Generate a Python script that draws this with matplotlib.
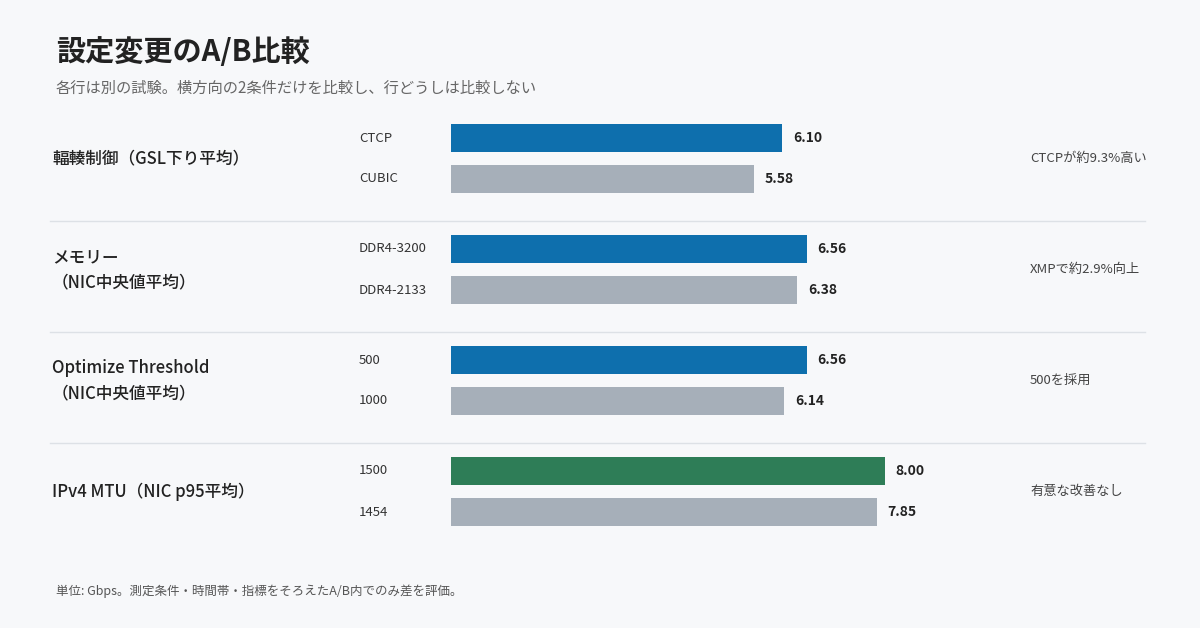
import matplotlib.pyplot as plt

plt.rcParams['font.family'] = ['Noto Sans CJK JP', 'DejaVu Sans']

groups = ['輻輳制御（GSL下り平均）', 'メモリー\n（NIC中央値平均）', 'Optimize Threshold\n（NIC中央値平均）', 'IPv4 MTU（NIC p95平均）']
labels_a = ['CTCP', 'DDR4-3200', '500', '1500']
labels_b = ['CUBIC', 'DDR4-2133', '1000', '1454']
values_a = [6.10, 6.56, 6.56, 8.00]
values_b = [5.58, 6.38, 6.14, 7.85]
notes = ['CTCPが約9.3%高い', 'XMPで約2.9%向上', '500を採用', '有意な改善なし']

W, H = 1200, 628
bg = '#f7f8fa'
fig = plt.figure(figsize=(12, 6.28), dpi=100, facecolor=bg)
ax = fig.add_axes([451 / W, 0, 434 / W, 1])
ax.set_xlim(0, 8)
ax.set_ylim(H, 0)
ax.axis('off')

row_top = 110
row_h = 111
for i in range(4):
    ya = row_top + i * row_h + 28
    yb = ya + 41
    ca = '#2e7d57' if i == 3 else '#0e6fad'
    ax.barh(ya, values_a[i], height=28, color=ca)
    ax.barh(yb, values_b[i], height=28, color='#a6afb9')
    ax.text(values_a[i] + 0.2, ya, f'{values_a[i]:.2f}', va='center', fontsize=10, fontweight='bold', color='#222')
    ax.text(values_b[i] + 0.2, yb, f'{values_b[i]:.2f}', va='center', fontsize=10, fontweight='bold', color='#222')
    fig.text(359 / W, 1 - ya / H, labels_a[i], va='center', fontsize=9.5, color='#333')
    fig.text(359 / W, 1 - yb / H, labels_b[i], va='center', fontsize=9.5, color='#333')
    mid = (ya + yb) / 2
    fig.text(52 / W, 1 - mid / H, groups[i], va='center', fontsize=12, fontweight='medium', color='#222', linespacing=1.5)
    fig.text(1030 / W, 1 - mid / H, notes[i], va='center', fontsize=9.5, color='#444')
    if i > 0:
        yl = 1 - (row_top + i * row_h) / H
        fig.add_artist(plt.Line2D([50 / W, 1145 / W], [yl, yl], color='#dde1e6', lw=1))

fig.text(56 / W, 1 - 52 / H, '設定変更のA/B比較', fontsize=21, fontweight='bold', color='#222', va='center')
fig.text(56 / W, 1 - 88 / H, '各行は別の試験。横方向の2条件だけを比較し、行どうしは比較しない', fontsize=11, color='#666', va='center')
fig.text(56 / W, 1 - 591 / H, '単位: Gbps。測定条件・時間帯・指標をそろえたA/B内でのみ差を評価。', fontsize=9, color='#555', va='center')

fig.savefig('out.png', dpi=100, facecolor=bg)
